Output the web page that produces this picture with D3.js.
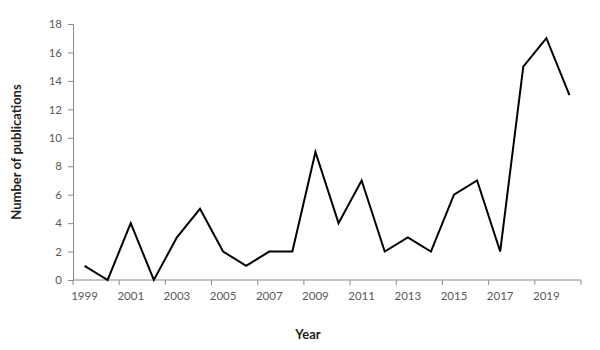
<!DOCTYPE html>
<html>
<head>
<meta charset="utf-8">
<script src="https://cdn.jsdelivr.net/npm/d3@7"></script>
<style>
  body { margin: 0; background: #fff; }
  text { font-family: Lato, "Open Sans", sans-serif; }
</style>
</head>
<body>
<div id="wrapper"></div>
<script>
// publications per year
const years = ["1999","2000","2001","2002","2003","2004","2005","2006","2007","2008","2009",
               "2010","2011","2012","2013","2014","2015","2016","2017","2018","2019","2020"];
const counts = [1, 0, 4, 0, 3, 5, 2, 1, 2, 2, 9, 4, 7, 2, 3, 2, 6, 7, 2, 15, 17, 13];
const yTicks = [0, 2, 4, 6, 8, 10, 12, 14, 16, 18];

var margin = {top: 24, right: 19, bottom: 70, left: 73},
    width = 600 - margin.left - margin.right,
    height = 350 - margin.top - margin.bottom;

var svg = d3.select("#wrapper")
  .append("svg")
    .attr("width", 600)
    .attr("height", 350)
  .append("g")
    .attr("transform", "translate(" + margin.left + "," + margin.top + ")");

var x = d3.scaleBand()
  .domain(years)
  .range([0, width]);

var y = d3.scaleLinear()
  .domain([0, 18])
  .range([height, 0]);

const axisColor = "#8c8c8c";
const labelColor = "#595959";

/* y axis */
var yAxis = svg.append("g")
  .call(d3.axisLeft(y).tickValues(yTicks).tickSize(5).tickPadding(6));
yAxis.select(".domain").attr("stroke", axisColor);
yAxis.selectAll(".tick line").attr("stroke", axisColor);
yAxis.selectAll("text").attr("fill", labelColor).style("font-size", "11.5px");

/* x axis: excel style, ticks between every second category */
var xAxis = svg.append("g")
  .attr("transform", "translate(0," + height + ")");
xAxis.append("line")
  .attr("x1", 0).attr("x2", width)
  .attr("stroke", axisColor);
var tickPos = d3.range(0, years.length + 1, 2).map(i => i * x.step());
xAxis.selectAll(".xt")
  .data(tickPos)
  .enter().append("line")
    .attr("x1", d => d).attr("x2", d => d)
    .attr("y1", 0).attr("y2", 5)
    .attr("stroke", axisColor);
xAxis.selectAll(".xl")
  .data(years.filter((d, i) => i % 2 === 0))
  .enter().append("text")
    .attr("x", d => x(d) + x.bandwidth() / 2)
    .attr("y", 20)
    .attr("text-anchor", "middle")
    .attr("fill", labelColor)
    .style("font-size", "11.5px")
    .text(d => d);

/* line */
var line = d3.line()
  .x((d, i) => x(years[i]) + x.bandwidth() / 2)
  .y(d => y(d));

svg.append("path")
  .datum(counts)
  .attr("fill", "none")
  .attr("stroke", "#000")
  .attr("stroke-width", 2)
  .attr("stroke-linejoin", "miter")
  .attr("d", line);

/* axis titles */
svg.append("text")
  .attr("transform", "translate(" + (-52) + "," + (height / 2) + ")rotate(-90)")
  .attr("text-anchor", "middle")
  .style("font-size", "13px")
  .style("font-weight", "bold")
  .attr("fill", "#222")
  .text("Number of publications");

svg.append("text")
  .attr("x", 235)
  .attr("y", height + 59)
  .attr("text-anchor", "middle")
  .style("font-size", "13px")
  .style("font-weight", "bold")
  .attr("fill", "#222")
  .text("Year");
</script>
</body>
</html>
